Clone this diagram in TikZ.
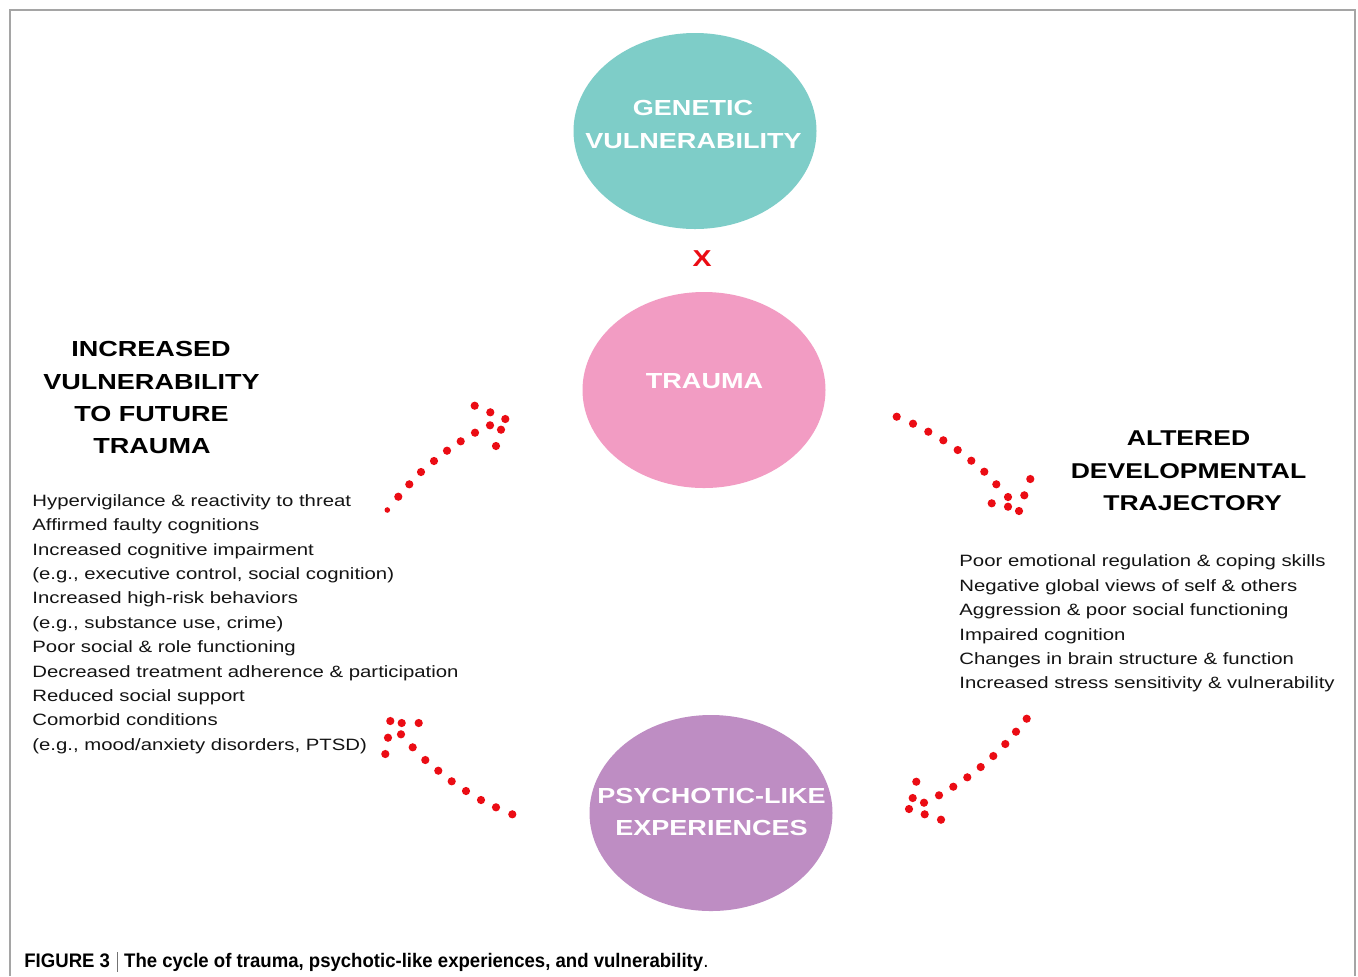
\documentclass[tikz,border=0pt]{standalone}
\usepackage{fontspec}
\setmainfont{Liberation Sans}
\usetikzlibrary{shapes.geometric}
\definecolor{tealA}{RGB}{126,205,200}
\definecolor{pinkA}{RGB}{242,156,195}
\definecolor{purpA}{RGB}{190,141,195}
\definecolor{dotred}{RGB}{235,12,20}
\definecolor{frameA}{RGB}{165,165,165}
\newcommand{\hs}[1]{\scalebox{1.24}[1]{#1}}
\begin{document}
\begin{tikzpicture}[x=0.5pt,y=-0.5pt,
  blob/.style={ellipse, minimum width=121.5pt, minimum height=98pt, inner sep=0pt, draw=none},
  intext/.style={anchor=base, inner sep=0pt, text=white, font=\fontsize{10.9}{13}\selectfont\bfseries},
  lhead/.style={anchor=base, inner sep=0pt, text=black, font=\fontsize{10.9}{13}\selectfont\bfseries},
  rhead/.style={anchor=base, inner sep=0pt, text=black, font=\fontsize{10.7}{13}\selectfont\bfseries},
  body/.style={anchor=base west, inner sep=0pt, text=black!92, font=\fontsize{8.2}{10}\selectfont},
  dotA/.style={fill=dotred}
]
\useasboundingbox (0,0) rectangle (1358,976);
\fill[white] (0,0) rectangle (1358,976);
\draw[frameA, line width=1pt] (9.5,976) -- (9.5,9.5) -- (1354.5,9.5) -- (1354.5,976);

% ellipses
\node[blob, fill=tealA] (gen) at (695,131) {};
\node[blob, fill=pinkA] (tra) at (704,390) {};
\node[blob, fill=purpA] (psy) at (711,813) {};

\node[intext] (genA) at (693,115.8) {\hs{GENETIC}};
\node[intext] (genB) at (693.5,148.8) {\hs{VULNERABILITY}};
\node[intext] (traA) at (704.5,388.8) {\hs{TRAUMA}};
\node[intext] (psyA) at (711.5,803.8) {\hs{PSYCHOTIC-LIKE}};
\node[intext] (psyB) at (711.5,835.8) {\hs{EXPERIENCES}};

% X
\node[anchor=base, inner sep=0pt, text=dotred, font=\fontsize{11.5}{13}\selectfont\bfseries] (times) at (702,266) {\hs{X}};

% left heading
\node[lhead] (lhA) at (151,356.8) {\hs{INCREASED}};
\node[lhead] (lhB) at (151.5,389) {\hs{VULNERABILITY}};
\node[lhead] (lhC) at (151.5,421.8) {\hs{TO FUTURE}};
\node[lhead] (lhD) at (152,453.8) {\hs{TRAUMA}};

% right heading
\node[rhead] (rhA) at (1188.5,445.7) {\hs{ALTERED}};
\node[rhead] (rhB) at (1188.5,478.7) {\hs{DEVELOPMENTAL}};
\node[rhead] (rhC) at (1192.5,510.7) {\hs{TRAJECTORY}};

% left body
\foreach \t [count=\i] in {
  {Hypervigilance \& reactivity to threat},
  {Affirmed faulty cognitions},
  {Increased cognitive impairment},
  {(e.g., executive control, social cognition)},
  {Increased high-risk behaviors},
  {(e.g., substance use, crime)},
  {Poor social \& role functioning},
  {Decreased treatment adherence \& participation},
  {Reduced social support},
  {Comorbid conditions},
  {(e.g., mood/anxiety disorders, PTSD)}}
  \node[body] (lb\i) at (32,{506.3+24.4*(\i-1)}) {\hs{\t}};

% right body
\foreach \t [count=\i] in {
  {Poor emotional regulation \& coping skills},
  {Negative global views of self \& others},
  {Aggression \& poor social functioning},
  {Impaired cognition},
  {Changes in brain structure \& function},
  {Increased stress sensitivity \& vulnerability}}
  \node[body] (rb\i) at (959,{566.9+24.4*(\i-1)}) {\hs{\t}};

% dotted arrow: left-up toward trauma
\fill[dotA] (387.3,510) circle[radius=1.4pt];
\foreach \x/\y in {398.3/496.7, 409.3/484.3, 421/472, 434/461, 447/450.7, 460.7/441.3, 475/432.7, 490/425.3,
  501/429.7, 496/446, 505.3/419, 490.3/412.3, 474.7/405.7}
  \fill[dotA] (\x,\y) circle[radius=2.05pt];

% dotted arrow: trauma toward right
\foreach \x/\y in {896.7/416.7, 913/423.7, 928.3/431.7, 943.3/440.3, 957.7/450, 971.3/460.7, 984.3/471.7, 996.3/484.3,
  1030.3/479, 1024.3/495.3, 1008/497, 991.7/503.3, 1008/506.7, 1019/511}
  \fill[dotA] (\x,\y) circle[radius=2.05pt];

% dotted arrow: right toward psychotic-like
\foreach \x/\y in {1026.7/718.7, 1016/731.7, 1005.3/744, 993.3/756, 980.7/767, 967.3/777.3, 953.3/786.7, 939/795.3, 924/802.7,
  909/809, 912.7/798, 916.3/781.7, 924.7/814.3, 941/819.7}
  \fill[dotA] (\x,\y) circle[radius=2.05pt];

% dotted arrow: psychotic-like toward left
\foreach \x/\y in {512.3/814.3, 496/807.3, 481/800, 466/791, 451.7/781.3, 438.3/770.7, 425.3/760, 412.7/747.3, 401/734.3,
  390.3/721, 401.7/723, 418.7/723, 388/737.7, 385.3/754}
  \fill[dotA] (\x,\y) circle[radius=2.05pt];

% caption
\node[anchor=base west, inner sep=0pt] (cap) at (24,967.5) {\resizebox{342pt}{\height}{\fontsize{9.8}{11}\selectfont\textbf{FIGURE 3}\hspace{3.5pt}{\color{black!55}\rule[-2.2pt]{0.45pt}{10pt}}\hspace{3.5pt}\textbf{The cycle of trauma, psychotic-like experiences, and vulnerability}.}};
\end{tikzpicture}
\end{document}
